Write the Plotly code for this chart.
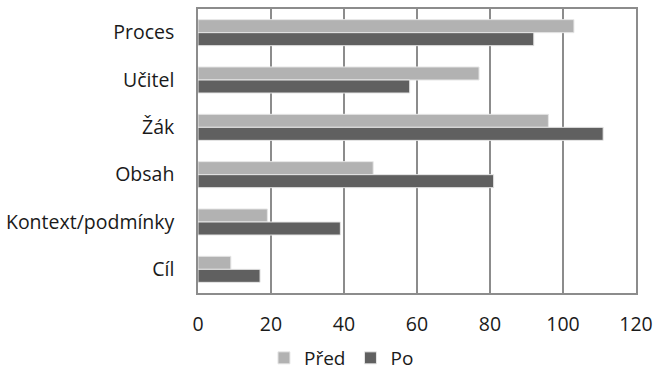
import plotly.graph_objects as go

categories = ["Proces", "Učitel", "Žák", "Obsah", "Kontext/podmínky", "Cíl"]
pred = [103, 77, 96, 48, 19, 9]
po = [92, 58, 111, 81, 39, 17]
x_ticks = [0, 20, 40, 60, 80, 100, 120]

fig = go.Figure()
fig.add_trace(go.Bar(y=categories, x=pred, name="Před", orientation="h",
                     marker=dict(color="#b2b2b2", line=dict(color="#e6e6e6", width=1))))
fig.add_trace(go.Bar(y=categories, x=po, name="Po", orientation="h",
                     marker=dict(color="#606060", line=dict(color="#e6e6e6", width=1))))

fig.update_layout(
    width=655, height=377,
    margin=dict(l=198, r=19, t=9, b=84, autoexpand=False),
    paper_bgcolor="white", plot_bgcolor="white",
    barmode="group", bargap=0.45, bargroupgap=0,
    font=dict(family="Open Sans", size=19.5, color="#1a1a1a"),
    showlegend=True,
    legend=dict(orientation="h", xref="container", x=0.403, xanchor="left",
                yref="container", y=-0.015, yanchor="bottom", font=dict(size=19),
                itemwidth=30, traceorder="normal", bgcolor="rgba(0,0,0,0)"),
    xaxis=dict(range=[0, 120], tickvals=x_ticks, showgrid=True, gridcolor="#8c8c8c",
               gridwidth=1.5, showline=True, linecolor="#8c8c8c", linewidth=1.5,
               mirror=True, zeroline=False, ticks="", ticklabelstandoff=13,
               fixedrange=True),
    yaxis=dict(categoryorder="array", categoryarray=categories, autorange="reversed",
               showline=True, linecolor="#8c8c8c", linewidth=1.5, mirror=True,
               ticks="", ticklabelstandoff=18, showgrid=False),
)

fig.write_html("out.html")
